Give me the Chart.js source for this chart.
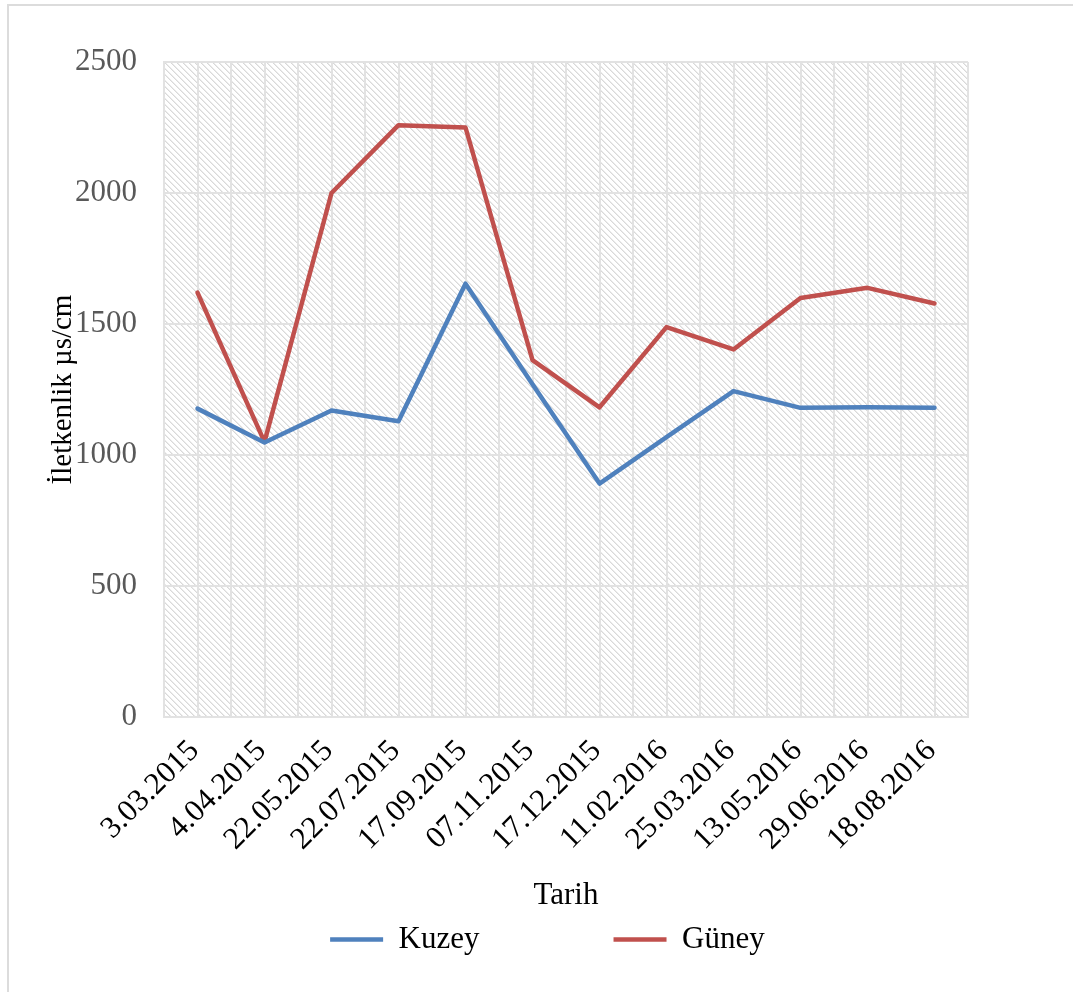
<!DOCTYPE html>
<html>
<head>
<meta charset="utf-8">
<script src="https://cdn.jsdelivr.net/npm/chart.js@4.4.1/dist/chart.umd.min.js"></script>
<style>
  html, body { margin: 0; padding: 0; background: #fff; overflow: hidden; }
  #frame { position: absolute; left: 7px; top: 4px; width: 1200px; height: 1200px; border-left: 2px solid #dcdcdc; border-top: 2px solid #dcdcdc; }
  #wrap { position: absolute; left: 0; top: 0; width: 1073px; height: 992px; }
</style>
</head>
<body>
<div id="frame"></div>
<div id="wrap"><canvas id="chart"></canvas></div>
<script>
// ── data ──
const dates = ['3.03.2015', '4.04.2015', '22.05.2015', '22.07.2015', '17.09.2015', '07.11.2015',
               '17.12.2015', '11.02.2016', '25.03.2016', '13.05.2016', '29.06.2016', '18.08.2016'];
const kuzey = [1177, 1048, 1170, 1129, 1654, 1270, 891, 1068, 1244, 1180, 1182, 1180];
const guney = [1620, 1050, 2000, 2259, 2250, 1362, 1182, 1488, 1403, 1599, 1638, 1578];
const yTicks = [0, 500, 1000, 1500, 2000, 2500];

const SERIF = "'Liberation Serif', 'Times New Roman', serif";
const GRID = '#e2e2e2';

// diagonal hatch behind the plot area
function makeHatch() {
  const t = document.createElement('canvas');
  t.width = 6; t.height = 6;
  const g = t.getContext('2d');
  g.fillStyle = '#fff'; g.fillRect(0, 0, 6, 6);
  for (let i = 0; i < 6; i++) {
    g.fillStyle = '#d9d9d9'; g.fillRect(i, i, 1, 1);
    g.fillStyle = '#ebebeb'; g.fillRect((i + 1) % 6, i, 1, 1);
  }
  return t;
}
const hatchBg = {
  id: 'hatchBg',
  beforeDraw(chart) {
    const { ctx, chartArea: a } = chart;
    ctx.save();
    ctx.fillStyle = ctx.createPattern(makeHatch(), 'repeat');
    ctx.fillRect(a.left, a.top, a.right - a.left, a.bottom - a.top);
    ctx.restore();
  }
};

const line = (label, data, color) => ({
  label, data,
  borderColor: color, backgroundColor: color,
  borderWidth: 4.5, pointRadius: 0, tension: 0,
  borderJoinStyle: 'round', borderCapStyle: 'round', fill: false
});

new Chart(document.getElementById('chart').getContext('2d'), {
  type: 'line',
  data: {
    labels: dates,
    datasets: [line('Kuzey', kuzey, '#4F81BD'), line('Güney', guney, '#C0504D')]
  },
  options: {
    responsive: true, maintainAspectRatio: false, animation: false,
    layout: { padding: { left: 20, right: 105, top: 62, bottom: 27 } },
    plugins: {
      tooltip: { enabled: false },
      legend: {
        position: 'bottom', fullSize: false,
        labels: {
          usePointStyle: true, pointStyle: 'line', pointStyleWidth: 53, padding: 10,
          color: '#000', font: { family: SERIF, size: 31 },
          generateLabels(chart) {
            const items = Chart.defaults.plugins.legend.labels.generateLabels(chart);
            items[0].text += '\u2002'.repeat(8);
            items[1].text += '\u2002\u2002\u2009';
            return items;
          }
        }
      }
    },
    scales: {
      x: {
        offset: true,
        grid: { offset: true, color: GRID, lineWidth: 2, drawTicks: false },
        border: { color: GRID, width: 2 },
        ticks: { autoSkip: false, minRotation: 45, maxRotation: 45, color: '#000', padding: 16, labelOffset: -3, font: { family: SERIF, size: 31 } },
        title: { display: true, text: 'Tarih', color: '#000', font: { family: SERIF, size: 31, lineHeight: 1 }, padding: { top: 4, bottom: 2.5 } },
        afterFit(s) { s.height = 197; }
      },
      x2: {
        position: 'top', offset: true,
        grid: { offset: false, color: GRID, lineWidth: 2, drawTicks: false },
        border: { display: false },
        ticks: { display: false },
        afterFit(s) { s.height = 0; }
      },
      y: {
        min: 0, max: 2500,
        afterBuildTicks(s) { s.ticks = yTicks.map(v => ({ value: v })); },
        grid: { color: GRID, lineWidth: 2, drawTicks: false },
        border: { color: GRID, width: 2 },
        ticks: { color: '#595959', padding: 27, font: { family: SERIF, size: 31 }, callback: v => String(v) },
        title: { display: true, text: 'İletkenlik µs/cm', color: '#000', font: { family: SERIF, size: 29 }, padding: { top: 26, bottom: 4 } },
        afterFit(s) { s.width = 144; }
      }
    }
  },
  plugins: [hatchBg]
});
</script>
</body>
</html>
